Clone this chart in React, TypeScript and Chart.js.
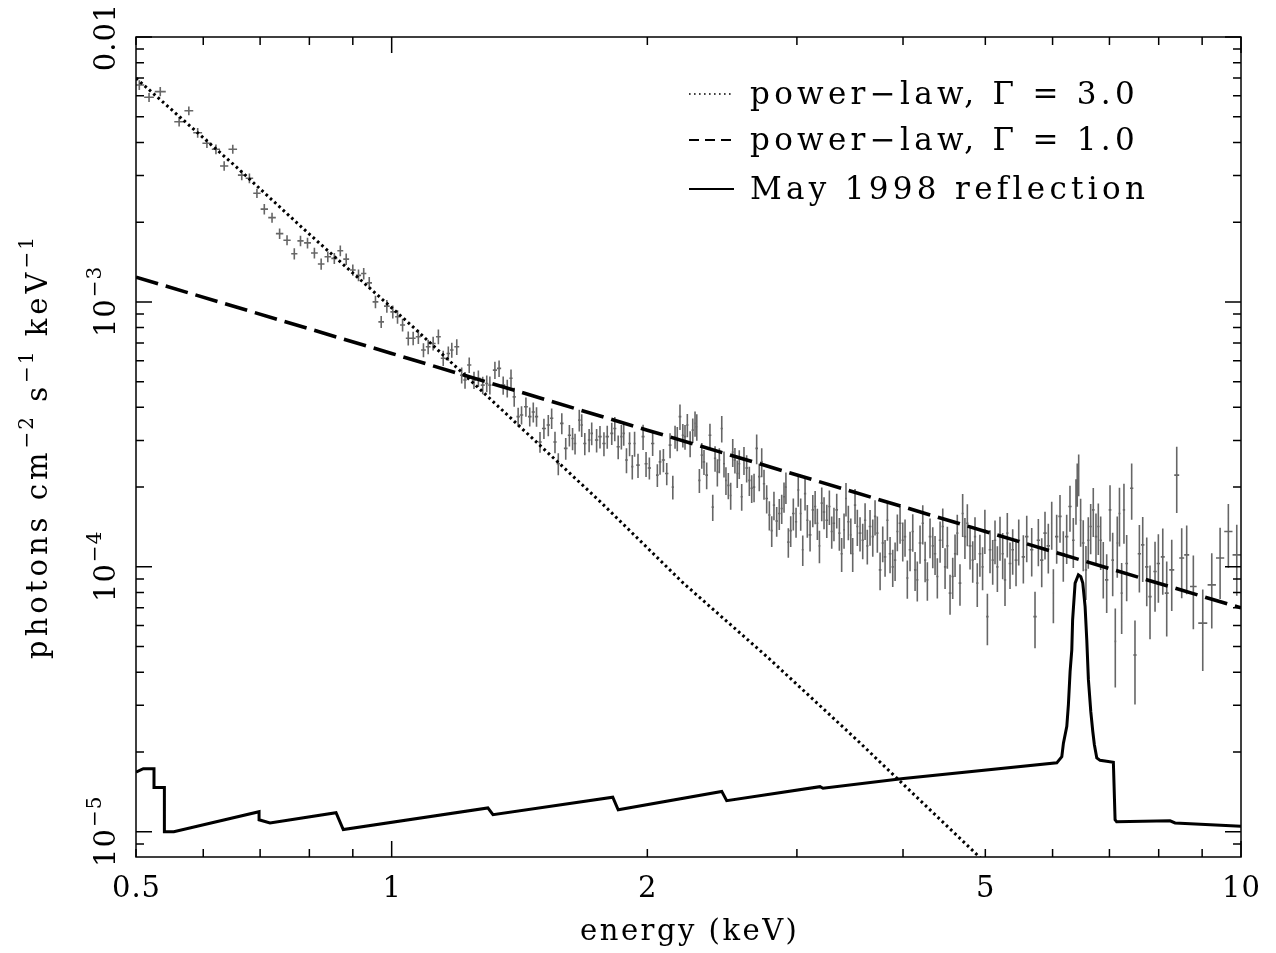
import { useEffect, useRef } from "react";
import { Chart, registerables } from "chart.js";

Chart.register(...registerables);

// ---------- axis ranges & ticks ----------
const X_MIN = 0.5;
const X_MAX = 10;
const Y_MIN = 8.03e-6;
const Y_MAX = 0.01;

const xTickValues = [0.5, 0.6, 0.7, 0.8, 0.9, 1, 2, 3, 4, 5, 6, 7, 8, 9, 10];
const xMajorTicks = [1, 10];
const xLabelValues = [0.5, 1, 2, 5, 10];
const xLabelTexts = ["0.5", "1", "2", "5", "10"];

const yTickValues = [
  9e-6, 1e-5, 2e-5, 3e-5, 4e-5, 5e-5, 6e-5, 7e-5, 8e-5, 9e-5, 1e-4, 2e-4, 3e-4, 4e-4, 5e-4, 6e-4, 7e-4, 8e-4,
  9e-4, 1e-3, 2e-3, 3e-3, 4e-3, 5e-3, 6e-3, 7e-3, 8e-3, 9e-3, 1e-2,
];
const yMajorTicks = [1e-5, 1e-4, 1e-3, 1e-2];
const yLabelValues = [1e-5, 1e-4, 1e-3, 1e-2];
const yLabelBase = ["10", "10", "10", "0.01"];
const yLabelExp = ["−5", "−4", "−3", ""];

const xTitle = "energy (keV)";
const yTitleParts: [string, boolean][] = [
  ["photons cm", false],
  ["−2", true],
  [" s", false],
  ["−1", true],
  [" keV", false],
  ["−1", true],
];

const legendTexts = ["power−law, Γ = 3.0", "power−law, Γ = 1.0", "May 1998 reflection"];

// ---------- model curves (energy keV, photons cm^-2 s^-1 keV^-1) ----------
const pl3Energy = [0.5, 0.6557, 0.7859, 1.0587, 1.2036, 1.7596, 2.205, 2.764, 3.528, 4.797, 5.0];
const pl3Flux = [6.99e-3, 3.24e-3, 1.897e-3, 8.07e-4, 5.5e-4, 1.764e-4, 8.68e-5, 4.59e-5, 2.225e-5, 8.68e-6, 7.64e-6];

const pl1Energy = [0.5, 1, 2, 5, 10];
const pl1Flux = [1.24e-3, 6.39e-4, 3.28e-4, 1.36e-4, 7.0e-5];

const reflEnergy = [
  0.5, 0.51, 0.525, 0.525, 0.54, 0.54, 0.554, 0.698, 0.698, 0.719, 0.86, 0.877, 1.298, 1.316, 1.821, 1.848, 2.447,
  2.48, 3.194, 3.22, 4.005, 6.069, 6.152, 6.179, 6.236, 6.263, 6.292, 6.321, 6.335, 6.378, 6.435, 6.477, 6.512,
  6.553, 6.583, 6.612, 6.655, 6.691, 6.72, 6.764, 6.825, 7.075, 7.108, 7.138, 8.25, 8.363, 10,
];
const reflFlux = [
  1.68e-5, 1.73e-5, 1.73e-5, 1.47e-5, 1.47e-5, 1.0e-5, 1.0e-5, 1.19e-5, 1.11e-5, 1.08e-5, 1.18e-5, 1.02e-5,
  1.23e-5, 1.16e-5, 1.35e-5, 1.21e-5, 1.42e-5, 1.31e-5, 1.48e-5, 1.46e-5, 1.59e-5, 1.82e-5, 1.92e-5, 2.16e-5,
  2.5e-5, 3.02e-5, 4.03e-5, 4.86e-5, 6.31e-5, 8.68e-5, 9.33e-5, 9.19e-5, 8.68e-5, 7.08e-5, 5.3e-5, 3.75e-5,
  2.84e-5, 2.39e-5, 2.13e-5, 1.9e-5, 1.86e-5, 1.83e-5, 1.11e-5, 1.09e-5, 1.1e-5, 1.08e-5, 1.05e-5,
];

// ---------- unfolded spectrum: [energy keV, flux, error %] ----------
const spectrumSoft: [number, number, number][] = [
  [0.5045, 6.59e-3, 4.2], [0.518, 5.92e-3, 3.9], [0.534, 6.22e-3, 4.0], [0.562, 4.79e-3, 4.1], [0.577, 5.27e-3, 3.8],
  [0.591, 4.35e-3, 4.2], [0.606, 3.97e-3, 4.0], [0.621, 3.77e-3, 4.3], [0.635, 3.26e-3, 4.1], [0.65, 3.77e-3, 3.9],
  [0.666, 3.01e-3, 4.4], [0.68, 2.93e-3, 4.2], [0.694, 2.57e-3, 4.0], [0.708, 2.24e-3, 4.5], [0.723, 2.08e-3, 4.3],
  [0.738, 1.81e-3, 4.6], [0.753, 1.71e-3, 4.4], [0.768, 1.52e-3, 4.8], [0.781, 1.7e-3, 4.5], [0.796, 1.67e-3, 4.7],
  [0.811, 1.53e-3, 4.6], [0.826, 1.39e-3, 4.9], [0.841, 1.48e-3, 4.7], [0.856, 1.46e-3, 4.8], [0.87, 1.56e-3, 4.6],
  [0.884, 1.45e-3, 5.0], [0.9, 1.32e-3, 4.9], [0.914, 1.26e-3, 5.1], [0.927, 1.28e-3, 5.0], [0.941, 1.18e-3, 5.2],
  [0.957, 1.0e-3, 5.4], [0.972, 8.41e-4, 5.3], [0.987, 9.64e-4, 5.5],
];
const spectrumMid: [number, number, number][] = [
  [1.003, 9.17e-4, 5.6], [1.016, 8.79e-4, 5.8], [1.03, 8.18e-4, 5.5], [1.046, 7.29e-4, 6.0], [1.06, 7.29e-4, 5.9],
  [1.075, 7.39e-4, 6.2], [1.09, 6.58e-4, 6.1], [1.104, 6.77e-4, 6.3], [1.119, 6.97e-4, 6.0], [1.135, 7.39e-4, 6.4],
  [1.15, 6.13e-4, 6.6], [1.166, 6.39e-4, 6.2], [1.177, 6.58e-4, 6.5], [1.193, 6.77e-4, 6.8], [1.209, 5.29e-4, 7.0],
  [1.22, 5.07e-4, 7.2], [1.234, 5.78e-4, 6.8], [1.25, 5.07e-4, 7.4], [1.265, 5.15e-4, 7.1], [1.28, 4.85e-4, 7.6],
  [1.294, 4.92e-4, 7.3], [1.305, 4.85e-4, 7.8], [1.323, 5.53e-4, 7.5], [1.338, 5.61e-4, 7.2], [1.353, 4.85e-4, 7.9],
  [1.368, 4.72e-4, 7.7], [1.382, 5.15e-4, 8.0], [1.394, 4.38e-4, 8.3], [1.409, 3.69e-4, 8.1], [1.422, 3.74e-4, 7.9],
  [1.439, 4.02e-4, 8.4], [1.454, 3.69e-4, 8.2], [1.468, 3.84e-4, 8.6], [1.481, 3.69e-4, 8.5], [1.495, 2.96e-4, 9.0],
  [1.511, 3.33e-4, 8.8], [1.529, 3.43e-4, 9.2], [1.543, 3.64e-4, 8.9], [1.557, 2.96e-4, 9.4], [1.571, 2.45e-4, 9.6],
  [1.586, 3.48e-4, 9.1], [1.603, 2.8e-4, 9.5], [1.619, 3.14e-4, 9.3], [1.633, 3.05e-4, 9.7], [1.644, 2.92e-4, 9.0],
  [1.663, 3.58e-4, 9.4], [1.674, 3.43e-4, 9.8], [1.688, 2.92e-4, 9.6], [1.708, 3.01e-4, 10.1], [1.72, 3.19e-4, 9.9],
  [1.743, 3.01e-4, 10.2], [1.759, 3.1e-4, 9.8], [1.778, 2.92e-4, 10.4], [1.794, 3.1e-4, 10.0], [1.816, 3.19e-4, 9.7],
  [1.831, 3.33e-4, 10.5], [1.848, 2.84e-4, 10.3], [1.864, 3.1e-4, 10.6], [1.876, 3.19e-4, 10.2], [1.89, 2.53e-4, 10.8],
  [1.906, 2.92e-4, 10.4], [1.92, 2.39e-4, 10.7], [1.932, 2.92e-4, 10.9], [1.95, 2.42e-4, 10.5], [1.977, 3.1e-4, 11.0],
  [1.993, 2.45e-4, 10.8],
];
const spectrum2to5: [number, number, number][] = [
  [2.011, 2.36e-4, 9.5], [2.029, 2.92e-4, 10.2], [2.055, 2.22e-4, 9.8], [2.07, 2.49e-4, 10.6], [2.089, 2.53e-4, 10.1],
  [2.108, 2.25e-4, 9.7], [2.127, 2.88e-4, 10.8], [2.143, 2.0e-4, 10.3], [2.156, 3.1e-4, 9.9], [2.169, 3.05e-4, 10.5],
  [2.185, 3.69e-4, 11.0], [2.202, 3.14e-4, 10.2], [2.215, 3.1e-4, 10.7], [2.229, 3.43e-4, 10.0], [2.246, 2.92e-4, 11.2],
  [2.262, 3.28e-4, 10.6], [2.276, 3.48e-4, 10.9], [2.287, 3.38e-4, 11.4], [2.303, 2.12e-4, 10.4], [2.318, 2.64e-4, 11.1],
  [2.332, 2.49e-4, 10.8], [2.349, 2.22e-4, 11.6], [2.37, 3.14e-4, 10.5], [2.388, 1.68e-4, 11.3], [2.403, 2.57e-4, 11.0],
  [2.418, 2.28e-4, 11.8], [2.431, 2.53e-4, 10.9], [2.447, 3.33e-4, 11.5], [2.462, 2.45e-4, 11.2], [2.475, 2.12e-4, 12.0],
  [2.491, 2.03e-4, 11.4], [2.507, 1.86e-4, 11.7], [2.521, 2.71e-4, 12.2], [2.536, 2.53e-4, 11.1], [2.552, 2.25e-4, 11.9],
  [2.566, 2.45e-4, 12.4], [2.583, 1.84e-4, 11.6], [2.599, 2.53e-4, 12.1], [2.618, 2.36e-4, 11.8], [2.637, 2.12e-4, 12.6],
  [2.654, 1.98e-4, 12.0], [2.671, 2.0e-4, 12.3], [2.69, 2.8e-4, 12.8], [2.709, 2.19e-4, 11.9], [2.727, 2.49e-4, 12.5],
  [2.744, 2.06e-4, 13.0], [2.764, 1.81e-4, 12.2], [2.784, 1.57e-4, 12.7], [2.802, 1.37e-4, 13.2], [2.819, 1.71e-4, 12.4],
  [2.84, 1.49e-4, 12.9], [2.86, 1.59e-4, 13.4], [2.879, 1.66e-4, 12.6], [2.897, 1.84e-4, 13.1], [2.912, 2.0e-4, 13.6],
  [2.931, 1.24e-4, 12.8], [2.95, 1.37e-4, 13.3], [2.971, 1.59e-4, 13.8], [2.993, 1.48e-4, 13.0], [3.011, 1.95e-4, 13.5],
  [3.031, 1.59e-4, 14.0], [3.048, 1.16e-4, 13.2], [3.067, 1.89e-4, 13.7], [3.086, 1.5e-4, 14.2], [3.109, 1.32e-4, 13.4],
  [3.132, 1.64e-4, 13.9], [3.152, 1.69e-4, 14.4], [3.171, 1.46e-4, 13.6], [3.189, 1.2e-4, 14.1], [3.209, 1.74e-4, 14.6],
  [3.229, 1.61e-4, 13.8], [3.253, 1.5e-4, 14.3], [3.276, 1.69e-4, 14.8], [3.297, 1.36e-4, 14.0], [3.317, 1.46e-4, 14.5],
  [3.342, 1.64e-4, 15.0], [3.366, 1.34e-4, 14.2], [3.387, 1.12e-4, 14.7], [3.409, 1.38e-4, 15.2], [3.427, 1.81e-4, 14.4],
  [3.449, 1.48e-4, 14.9], [3.472, 1.32e-4, 15.4], [3.49, 1.12e-4, 14.6], [3.512, 1.71e-4, 15.1], [3.534, 1.42e-4, 15.6],
  [3.56, 1.34e-4, 14.8], [3.586, 1.26e-4, 15.3], [3.609, 1.5e-4, 15.8], [3.631, 1.2e-4, 15.0], [3.658, 1.42e-4, 15.5],
  [3.685, 1.3e-4, 16.0], [3.708, 1.55e-4, 15.2], [3.731, 1.34e-4, 15.7], [3.759, 9.74e-5, 16.2], [3.786, 1.23e-4, 15.4],
  [3.81, 1.09e-4, 15.9], [3.834, 1.5e-4, 16.4], [3.862, 1.12e-4, 15.6], [3.89, 1.0e-4, 16.1], [3.915, 1.06e-4, 16.6],
  [3.939, 1.36e-4, 15.8], [3.968, 1.46e-4, 16.3], [3.997, 1.26e-4, 16.8], [4.022, 1.3e-4, 16.0], [4.047, 9.07e-5, 16.5],
  [4.077, 1.16e-4, 17.0], [4.107, 1.36e-4, 16.2], [4.133, 9.74e-5, 16.7], [4.158, 8.93e-5, 17.2], [4.189, 1.23e-4, 16.4],
  [4.22, 1.46e-4, 16.9], [4.247, 1.06e-4, 17.4], [4.273, 8.93e-5, 16.6], [4.304, 1.3e-4, 17.1], [4.336, 1.2e-4, 17.6],
  [4.363, 1.12e-4, 16.8], [4.39, 9.19e-5, 17.3], [4.423, 1.26e-4, 17.8], [4.455, 1.42e-4, 17.0], [4.483, 1.0e-4, 17.5],
  [4.511, 1.2e-4, 18.0], [4.544, 7.96e-5, 17.2], [4.577, 9.19e-5, 17.7], [4.606, 1.12e-4, 18.2], [4.634, 1.34e-4, 17.4],
  [4.668, 8.68e-5, 17.9], [4.702, 1.59e-4, 18.4], [4.731, 1.3e-4, 17.6], [4.762, 1.46e-4, 18.1], [4.797, 1.2e-4, 18.6],
  [4.832, 1.06e-4, 17.8], [4.862, 1.3e-4, 18.3], [4.892, 8.68e-5, 18.8], [4.927, 1.12e-4, 18.0], [4.963, 1.0e-4, 18.5],
  [4.994, 1.38e-4, 19.0],
];
const spectrumHard: [number, number, number][] = [
  [5.028, 6.49e-5, 22.0], [5.064, 1.16e-4, 18.5], [5.101, 1.06e-4, 19.2], [5.133, 1.26e-4, 18.8], [5.166, 1.0e-4, 19.6],
  [5.203, 1.3e-4, 18.9], [5.241, 1.12e-4, 19.8], [5.274, 8.93e-5, 20.4], [5.307, 1.34e-4, 19.1], [5.346, 1.03e-4, 20.0],
  [5.385, 1.16e-4, 19.5], [5.434, 1.06e-4, 20.3], [5.474, 1.26e-4, 19.7], [5.543, 1.09e-4, 20.6], [5.594, 1.3e-4, 19.9],
  [5.67, 1.16e-4, 20.8], [5.721, 6.49e-5, 24.0], [5.773, 1.26e-4, 20.2], [5.826, 1.06e-4, 21.0], [5.878, 1.34e-4, 20.4],
  [5.931, 1.2e-4, 21.3], [5.986, 1.46e-4, 20.6], [6.013, 7.96e-5, 23.0], [6.067, 1.3e-4, 21.0], [6.122, 1.55e-4, 20.5],
  [6.177, 1.12e-4, 21.6], [6.234, 1.3e-4, 21.1], [6.29, 1.69e-4, 19.8], [6.347, 1.26e-4, 21.4], [6.393, 1.79e-4, 19.5],
  [6.415, 2.07e-4, 18.6], [6.44, 2.25e-4, 18.0], [6.474, 1.5e-4, 20.6], [6.52, 1.23e-4, 21.8], [6.568, 9.74e-5, 23.0],
  [6.61, 1.26e-4, 22.0], [6.653, 1.42e-4, 21.5], [6.7, 1.64e-4, 21.0], [6.749, 1.3e-4, 22.4], [6.792, 1.42e-4, 22.0],
  [6.836, 1.26e-4, 22.8], [6.884, 1.0e-4, 24.0], [6.948, 8.93e-5, 25.0], [7.011, 1.64e-4, 24.0], [7.062, 1.06e-4, 27.0],
  [7.112, 5.23e-5, 33.0], [7.15, 1.23e-4, 26.0], [7.193, 1.59e-4, 25.0], [7.236, 7.96e-5, 30.0], [7.281, 1.64e-4, 25.5],
  [7.335, 1.03e-4, 28.0], [7.435, 1.98e-4, 24.0], [7.502, 4.65e-5, 35.0], [7.592, 1.12e-4, 28.5], [7.661, 1.21e-4, 27.5],
  [7.745, 1.0e-4, 29.0], [7.814, 7.72e-5, 31.0], [7.921, 9.6e-5, 29.5], [7.993, 1.03e-4, 29.0], [8.089, 1.09e-4, 28.0],
  [8.176, 7.96e-5, 31.5], [8.288, 9.74e-5, 30.0], [8.401, 2.22e-4, 28.0], [8.515, 1.08e-4, 29.5], [8.631, 1.11e-4, 29.0],
  [8.788, 8.43e-5, 31.0], [9.015, 6.13e-5, 34.0], [9.238, 8.55e-5, 31.5], [9.449, 1.08e-4, 30.0], [9.663, 1.36e-4, 27.0],
  [9.886, 1.11e-4, 30.0],
];

const spectrum = [...spectrumSoft, ...spectrumMid, ...spectrum2to5, ...spectrumHard];

// ---------- styling ----------
const FONT = '"DejaVu Serif", "Liberation Serif", serif';
const DATA_COLOR = "#666666";

const toXY = (xs: number[], ys: number[]) => xs.map((x, i) => ({ x, y: ys[i] }));

const errorBarPlugin = {
  id: "errorBars",
  beforeDatasetsDraw(chart: any) {
    const { ctx, chartArea } = chart;
    const xs = chart.scales.x;
    const ys = chart.scales.y;
    const pts = chart.data.datasets[3].data as { x: number; y: number; e: number }[];
    const px = pts.map((p) => xs.getPixelForValue(p.x));
    ctx.save();
    ctx.beginPath();
    ctx.rect(chartArea.left, chartArea.top, chartArea.width, chartArea.height);
    ctx.clip();
    ctx.strokeStyle = DATA_COLOR;
    ctx.lineWidth = 1.6;
    ctx.beginPath();
    for (let i = 0; i < pts.length; i++) {
      const p = pts[i];
      const cx = px[i];
      const r = p.e / 100;
      const yTop = ys.getPixelForValue(p.y * (1 + r));
      const yBot = ys.getPixelForValue(p.y * (1 - r));
      const cy = ys.getPixelForValue(p.y);
      const gl = i > 0 ? cx - px[i - 1] : Infinity;
      const gr = i < pts.length - 1 ? px[i + 1] - cx : Infinity;
      const hw = Math.min(gl, gr, 11) / 2;
      ctx.moveTo(cx, yTop);
      ctx.lineTo(cx, yBot);
      ctx.moveTo(cx - hw, cy);
      ctx.lineTo(cx + hw, cy);
    }
    ctx.stroke();
    ctx.restore();
  },
};

const framePlugin = {
  id: "frameTicks",
  afterDatasetsDraw(chart: any) {
    const { ctx, chartArea } = chart;
    const { left, right, top, bottom } = chartArea;
    const xs = chart.scales.x;
    const ys = chart.scales.y;
    ctx.save();
    ctx.strokeStyle = "#000";
    ctx.lineWidth = 1.5;
    ctx.setLineDash([]);
    ctx.beginPath();
    for (const v of xTickValues) {
      const p = xs.getPixelForValue(v);
      const len = xMajorTicks.includes(v) ? 16 : 8;
      ctx.moveTo(p, bottom);
      ctx.lineTo(p, bottom - len);
      ctx.moveTo(p, top);
      ctx.lineTo(p, top + len);
    }
    for (const v of yTickValues) {
      const p = ys.getPixelForValue(v);
      const len = yMajorTicks.includes(v) ? 16 : 8;
      ctx.moveTo(left, p);
      ctx.lineTo(left + len, p);
      ctx.moveTo(right, p);
      ctx.lineTo(right - len, p);
    }
    ctx.stroke();
    ctx.strokeRect(left, top, right - left, bottom - top);
    ctx.restore();
  },
};

const textPlugin = {
  id: "texts",
  afterDraw(chart: any) {
    const { ctx, chartArea } = chart;
    const xs = chart.scales.x;
    const ys = chart.scales.y;
    ctx.save();
    ctx.fillStyle = "#000";
    ctx.textBaseline = "alphabetic";

    // x tick labels
    ctx.font = `29px ${FONT}`;
    (ctx as any).letterSpacing = "1px";
    ctx.textAlign = "left";
    xLabelValues.forEach((v, i) => {
      const p = xs.getPixelForValue(v);
      const w = ctx.measureText(xLabelTexts[i]).width - 1;
      ctx.fillText(xLabelTexts[i], p - w / 2, 897);
    });

    // x title
    (ctx as any).letterSpacing = "2.5px";
    {
      const w = ctx.measureText(xTitle).width - 2.5;
      ctx.fillText(xTitle, (chartArea.left + chartArea.right) / 2 - w / 2, 940);
    }

    // y tick labels (rotated)
    yLabelValues.forEach((v, i) => {
      const p = ys.getPixelForValue(v);
      ctx.save();
      ctx.translate(115, p);
      ctx.rotate(-Math.PI / 2);
      ctx.font = `29px ${FONT}`;
      (ctx as any).letterSpacing = "1px";
      const wb = ctx.measureText(yLabelBase[i]).width;
      ctx.font = `20px ${FONT}`;
      const we = yLabelExp[i] ? ctx.measureText(yLabelExp[i]).width : 0;
      const start = -(wb + we) / 2;
      ctx.font = `29px ${FONT}`;
      ctx.fillText(yLabelBase[i], start, 0);
      if (yLabelExp[i]) {
        ctx.font = `20px ${FONT}`;
        ctx.fillText(yLabelExp[i], start + wb + 1, -14);
      }
      ctx.restore();
    });

    // y title (rotated)
    ctx.save();
    ctx.translate(47, (chartArea.top + chartArea.bottom) / 2);
    ctx.rotate(-Math.PI / 2);
    let total = 0;
    const widths: number[] = [];
    for (const [t, sup] of yTitleParts) {
      ctx.font = sup ? `20px ${FONT}` : `29px ${FONT}`;
      (ctx as any).letterSpacing = sup ? "2px" : "4px";
      const w = ctx.measureText(t).width;
      widths.push(w);
      total += w;
    }
    let cx = -total / 2;
    yTitleParts.forEach(([t, sup], i) => {
      ctx.font = sup ? `20px ${FONT}` : `29px ${FONT}`;
      (ctx as any).letterSpacing = sup ? "2px" : "4px";
      ctx.fillText(t, cx, sup ? -14 : 0);
      cx += widths[i];
    });
    ctx.restore();

    // legend
    const rowBase = [104, 150, 199];
    ctx.font = `31px ${FONT}`;
    (ctx as any).letterSpacing = "4.3px";
    legendTexts.forEach((t, i) => {
      ctx.fillText(t, 750, rowBase[i]);
    });
    (ctx as any).letterSpacing = "0px";
    ctx.strokeStyle = "#000";
    const x0 = 689;
    const x1 = 734;
    // dotted
    ctx.lineWidth = 1.6;
    ctx.setLineDash([1.6, 3.4]);
    ctx.beginPath();
    ctx.moveTo(x0, rowBase[0] - 10);
    ctx.lineTo(x1, rowBase[0] - 10);
    ctx.stroke();
    // dashed
    ctx.lineWidth = 2;
    ctx.setLineDash([10, 6]);
    ctx.beginPath();
    ctx.moveTo(x0, rowBase[1] - 10);
    ctx.lineTo(x1, rowBase[1] - 10);
    ctx.stroke();
    // solid
    ctx.setLineDash([]);
    ctx.beginPath();
    ctx.moveTo(x0, rowBase[2] - 10);
    ctx.lineTo(x1, rowBase[2] - 10);
    ctx.stroke();
    ctx.restore();
  },
};

export default function App() {
  const canvasRef = useRef<HTMLCanvasElement | null>(null);

  useEffect(() => {
    const canvas = canvasRef.current;
    if (!canvas) return;
    const chart = new Chart(canvas, {
      type: "scatter",
      data: {
        datasets: [
          {
            label: "power-law, Γ = 3.0",
            type: "line",
            data: toXY(pl3Energy, pl3Flux),
            borderColor: "#000",
            borderWidth: 3,
            borderDash: [2.6, 3.2],
            pointRadius: 0,
            fill: false,
            tension: 0,
            order: 2,
          } as any,
          {
            label: "power-law, Γ = 1.0",
            type: "line",
            data: toXY(pl1Energy, pl1Flux),
            borderColor: "#000",
            borderWidth: 3.6,
            borderDash: [23, 8],
            pointRadius: 0,
            fill: false,
            tension: 0,
            order: 1,
          } as any,
          {
            label: "May 1998 reflection",
            type: "line",
            data: toXY(reflEnergy, reflFlux),
            borderColor: "#000",
            borderWidth: 3,
            pointRadius: 0,
            fill: false,
            tension: 0,
            order: 0,
          } as any,
          {
            label: "data",
            type: "scatter",
            data: spectrum.map(([x, y, e]) => ({ x, y, e })),
            pointRadius: 0,
            order: 5,
          } as any,
        ],
      },
      options: {
        responsive: false,
        animation: false,
        devicePixelRatio: 1,
        layout: { padding: { left: 0, right: 35, top: 37, bottom: 0 } },
        plugins: { legend: { display: false }, tooltip: { enabled: false } },
        scales: {
          x: {
            type: "logarithmic",
            position: "bottom",
            min: X_MIN,
            max: X_MAX,
            afterBuildTicks: (s: any) => {
              s.ticks = xTickValues.map((v) => ({ value: v }));
            },
            afterFit: (s: any) => {
              s.height = 96;
            },
            ticks: { display: false },
            grid: { display: false },
            border: { display: false },
          },
          y: {
            type: "logarithmic",
            position: "left",
            min: Y_MIN,
            max: Y_MAX,
            afterBuildTicks: (s: any) => {
              s.ticks = yTickValues.map((v) => ({ value: v }));
            },
            afterFit: (s: any) => {
              s.width = 136;
            },
            ticks: { display: false },
            grid: { display: false },
            border: { display: false },
          },
        },
      } as any,
      plugins: [errorBarPlugin, framePlugin, textPlugin],
    });
    return () => chart.destroy();
  }, []);

  return (
    <div style={{ position: "fixed", left: 0, top: 0, width: 1276, height: 953, background: "#fff" }}>
      <canvas ref={canvasRef} width={1276} height={953} style={{ display: "block", width: 1276, height: 953 }} />
    </div>
  );
}
